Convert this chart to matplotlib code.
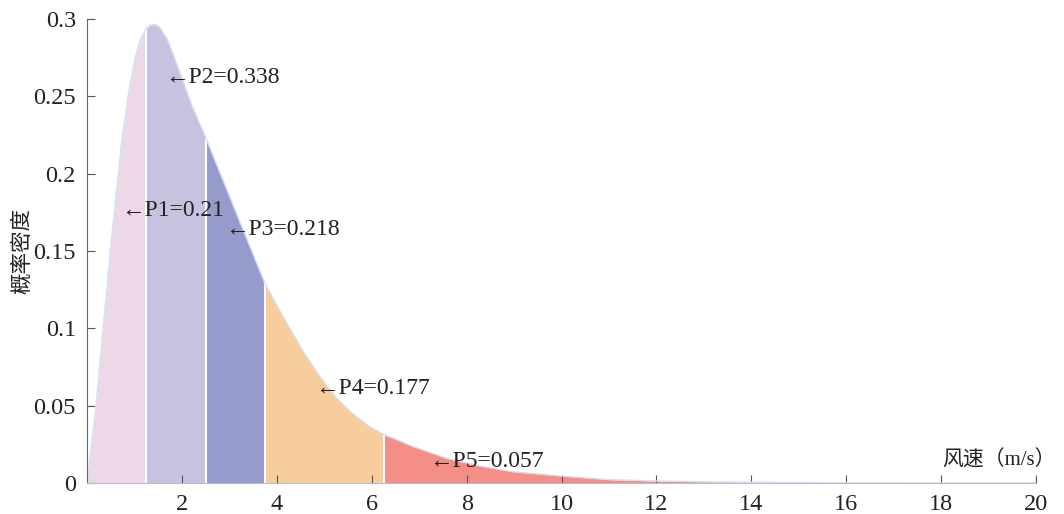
import matplotlib.pyplot as plt

plt.rcParams['font.family'] = ['Liberation Serif', 'DejaVu Serif']

# 风速 (m/s) 与概率密度
wind = [0, 0.19, 0.34, 0.49, 0.66, 0.73, 0.87, 1.01, 1.12, 1.25, 1.32, 1.40, 1.47, 1.54,
        1.68, 1.82, 2.0, 2.21, 2.5, 3.12, 3.75, 3.86, 4.21, 4.56, 4.91, 5.26, 5.61, 5.96,
        6.25, 6.88, 7.58, 8.28, 8.98, 10, 11, 12, 13, 14, 15, 16, 18, 20]
density = [0, 0.05, 0.10, 0.15, 0.20, 0.221, 0.251, 0.2746, 0.2864, 0.294, 0.2958, 0.2965, 0.2959, 0.2944,
           0.2875, 0.2767, 0.2617, 0.244, 0.2235, 0.1765, 0.129, 0.1227, 0.1033, 0.0849, 0.0687, 0.0548, 0.0445, 0.0364,
           0.0315, 0.0235, 0.016, 0.011, 0.0073, 0.0045, 0.0022, 0.0013, 0.0008, 0.0005, 0.0003, 0.0001, 0.0, 0.0]

# 分段边界与概率
edges = [0, 1.25, 2.5, 3.75, 6.25, 20]
probs = ['P1=0.21', 'P2=0.338', 'P3=0.218', 'P4=0.177', 'P5=0.057']
colors = ['#EDD8E8', '#C6C2E0', '#979BCB', '#F7CD9E', '#F38F86']
label_pos = [(0.72, 0.1765), (1.65, 0.2625), (2.92, 0.1636), (4.81, 0.0614), (7.22, 0.0136)]

fig = plt.figure(figsize=(10.64, 5.14), dpi=100)
ax = fig.add_axes([0.0818, 0.0603, 0.8919, 0.9027])

for i in range(len(probs)):
    lo, hi = edges[i], edges[i + 1]
    xs = [w for w in wind if lo <= w <= hi]
    ys = [d for w, d in zip(wind, density) if lo <= w <= hi]
    ax.fill_between(xs, ys, 0, color=colors[i], linewidth=0)
    if i > 0:
        ax.plot([lo, lo], [0, ys[0]], color='white', lw=1.5)
ax.plot(wind, density, color='#CFE2EE', lw=1.0)

for (tx, ty), p in zip(label_pos, probs):
    ax.text(tx, ty, '\u2190' + p, fontsize=17, va='center', ha='left', color='#222222')

ax.set_xlim(0, 20)
ax.set_ylim(0, 0.3)
ax.set_xticks(range(2, 21, 2))
ax.set_yticks([0, 0.05, 0.1, 0.15, 0.2, 0.25, 0.3])
ax.set_yticklabels(['0', '0.05', '0.1', '0.15', '0.2', '0.25', '0.3'])
ax.tick_params(direction='in', labelsize=17.5, length=6, color='#555555', labelcolor='#222222')
ax.tick_params(axis='x', pad=8)
ax.tick_params(axis='y', pad=8)
for s in ['top', 'right']:
    ax.spines[s].set_visible(False)
ax.spines['left'].set_color('#666666')
ax.spines['bottom'].set_color('#BBBBCC')

ax.set_ylabel('概率密度', family=['Noto Sans CJK SC', 'DejaVu Sans'], fontsize=15.5, color='#222222', labelpad=0)
ax.text(18.02, 0.0145, '风速（m/s）', family=['Liberation Serif', 'Noto Sans CJK SC'], fontsize=15,
        va='center', ha='left', color='#222222')

fig.savefig('out.png', dpi=100)
